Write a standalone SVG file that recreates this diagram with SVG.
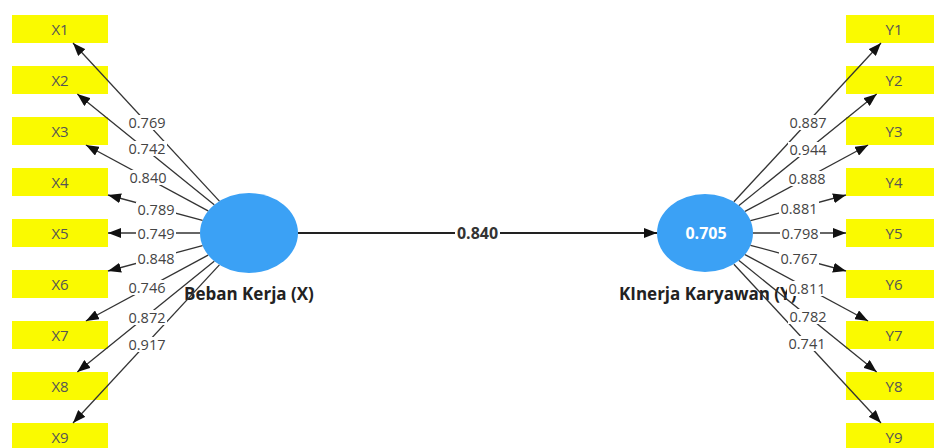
<svg xmlns="http://www.w3.org/2000/svg" width="934" height="448" viewBox="0 0 934 448">
  <style>
    .ind { fill: #fafa00; }
    .ind-t { font-family: "Open Sans", "Liberation Sans", sans-serif; font-size: 15px; fill: #555; text-anchor: middle; dominant-baseline: central; }
    .lv { fill: #3ba1f5; }
    .lv-name { font-family: "Open Sans", "Liberation Sans", sans-serif; font-size: 17px; font-weight: bold; fill: #222; }
    .lv-r2 { font-family: "Open Sans", "Liberation Sans", sans-serif; font-size: 16px; font-weight: bold; fill: #fff; text-anchor: middle; dominant-baseline: central; }
    .edge { stroke: #333; stroke-width: 1.3; fill: none; marker-end: url(#arrow); }
    .path { stroke: #222; stroke-width: 2; fill: none; marker-end: url(#arrow); }
    .lbl-bg { fill: #fff; }
    .lbl { font-family: "Open Sans", "Liberation Sans", sans-serif; font-size: 14.5px; fill: #444; text-anchor: middle; dominant-baseline: central; }
    .lbl-b { font-family: "Open Sans", "Liberation Sans", sans-serif; font-size: 16px; font-weight: bold; fill: #333; text-anchor: middle; dominant-baseline: central; }
  </style>
  <defs>
    <marker id="arrow" markerUnits="userSpaceOnUse" markerWidth="14" markerHeight="10" refX="13" refY="5" orient="auto">
      <path d="M0,0 L13,5 L0,10 z" fill="#111"/>
    </marker>
    <rect id="ibox" width="96" height="28"/>
  </defs>

  <rect width="934" height="448" fill="#fff"/>

  <!-- latent variables -->
  <g id="beban-kerja">
    <ellipse class="lv" cx="249" cy="233" rx="49" ry="40"/>
    <text class="lv-name" x="184" y="300">Beban Kerja (X)</text>
  </g>
  <g id="kinerja-karyawan">
    <ellipse class="lv" cx="705" cy="233" rx="48" ry="39"/>
    <text class="lv-r2" x="706" y="233">0.705</text>
    <text class="lv-name" x="619" y="300">KInerja Karyawan (Y)</text>
  </g>

  <!-- indicators of Beban Kerja -->
  <g id="X1"><use href="#ibox" class="ind" x="12" y="15"/><text class="ind-t" x="60" y="29">X1</text></g>
  <g id="X2"><use href="#ibox" class="ind" x="12" y="66"/><text class="ind-t" x="60" y="80">X2</text></g>
  <g id="X3"><use href="#ibox" class="ind" x="12" y="117"/><text class="ind-t" x="60" y="131">X3</text></g>
  <g id="X4"><use href="#ibox" class="ind" x="12" y="168"/><text class="ind-t" x="60" y="182">X4</text></g>
  <g id="X5"><use href="#ibox" class="ind" x="12" y="219"/><text class="ind-t" x="60" y="233">X5</text></g>
  <g id="X6"><use href="#ibox" class="ind" x="12" y="270"/><text class="ind-t" x="60" y="284">X6</text></g>
  <g id="X7"><use href="#ibox" class="ind" x="12" y="321"/><text class="ind-t" x="60" y="335">X7</text></g>
  <g id="X8"><use href="#ibox" class="ind" x="12" y="372"/><text class="ind-t" x="60" y="386">X8</text></g>
  <g id="X9"><use href="#ibox" class="ind" x="12" y="423"/><text class="ind-t" x="60" y="437">X9</text></g>

  <!-- indicators of Kinerja Karyawan -->
  <g id="Y1"><use href="#ibox" class="ind" x="846" y="15"/><text class="ind-t" x="894" y="29">Y1</text></g>
  <g id="Y2"><use href="#ibox" class="ind" x="846" y="66"/><text class="ind-t" x="894" y="80">Y2</text></g>
  <g id="Y3"><use href="#ibox" class="ind" x="846" y="117"/><text class="ind-t" x="894" y="131">Y3</text></g>
  <g id="Y4"><use href="#ibox" class="ind" x="846" y="168"/><text class="ind-t" x="894" y="182">Y4</text></g>
  <g id="Y5"><use href="#ibox" class="ind" x="846" y="219"/><text class="ind-t" x="894" y="233">Y5</text></g>
  <g id="Y6"><use href="#ibox" class="ind" x="846" y="270"/><text class="ind-t" x="894" y="284">Y6</text></g>
  <g id="Y7"><use href="#ibox" class="ind" x="846" y="321"/><text class="ind-t" x="894" y="335">Y7</text></g>
  <g id="Y8"><use href="#ibox" class="ind" x="846" y="372"/><text class="ind-t" x="894" y="386">Y8</text></g>
  <g id="Y9"><use href="#ibox" class="ind" x="846" y="423"/><text class="ind-t" x="894" y="437">Y9</text></g>

  <!-- connectors: outer loadings and structural path -->
  <g id="connectors">
    <line class="edge" x1="219.4" y1="201.1" x2="73" y2="43"/>
    <line class="edge" x1="214.2" y1="204.8" x2="77.3" y2="94"/>
    <line class="edge" x1="208.1" y1="210.9" x2="85.9" y2="145"/>
    <line class="edge" x1="202.5" y1="220.4" x2="108" y2="195"/>
    <line class="edge" x1="200" y1="233" x2="108" y2="233"/>
    <line class="edge" x1="202.5" y1="245.6" x2="108" y2="271"/>
    <line class="edge" x1="208.1" y1="255.1" x2="85.9" y2="321"/>
    <line class="edge" x1="214.2" y1="261.2" x2="77.3" y2="372"/>
    <line class="edge" x1="219.4" y1="264.9" x2="73" y2="423"/>

    <line class="edge" x1="733.9" y1="201.8" x2="881" y2="43"/>
    <line class="edge" x1="739" y1="205.5" x2="876.7" y2="94"/>
    <line class="edge" x1="745" y1="211.4" x2="868.1" y2="145"/>
    <line class="edge" x1="750.5" y1="220.7" x2="846" y2="195"/>
    <line class="edge" x1="753" y1="233" x2="846" y2="233"/>
    <line class="edge" x1="750.5" y1="245.3" x2="846" y2="271"/>
    <line class="edge" x1="745" y1="254.6" x2="868.1" y2="321"/>
    <line class="edge" x1="739" y1="260.5" x2="876.7" y2="372"/>
    <line class="edge" x1="733.9" y1="264.2" x2="881" y2="423"/>

    <line class="path" x1="298" y1="233" x2="657" y2="233"/>

    <!-- loading labels (left) -->
    <g>
      <rect class="lbl-bg" x="127" y="115" width="40" height="15"/><text class="lbl" x="147" y="122">0.769</text>
      <rect class="lbl-bg" x="127" y="141" width="40" height="15"/><text class="lbl" x="147" y="148.5">0.742</text>
      <rect class="lbl-bg" x="128" y="170" width="40" height="15"/><text class="lbl" x="148" y="177.5">0.840</text>
      <rect class="lbl-bg" x="136" y="202" width="40" height="15"/><text class="lbl" x="156" y="209">0.789</text>
      <rect class="lbl-bg" x="136" y="226" width="40" height="15"/><text class="lbl" x="156" y="233.5">0.749</text>
      <rect class="lbl-bg" x="136" y="250" width="40" height="15"/><text class="lbl" x="156" y="258">0.848</text>
      <rect class="lbl-bg" x="127" y="280" width="40" height="15"/><text class="lbl" x="147" y="287.5">0.746</text>
      <rect class="lbl-bg" x="127" y="310" width="40" height="15"/><text class="lbl" x="147" y="317.5">0.872</text>
      <rect class="lbl-bg" x="127" y="337" width="40" height="15"/><text class="lbl" x="147" y="344.5">0.917</text>
    </g>
    <!-- loading labels (right) -->
    <g>
      <rect class="lbl-bg" x="788" y="115" width="40" height="15"/><text class="lbl" x="808" y="122.5">0.887</text>
      <rect class="lbl-bg" x="788" y="142" width="40" height="15"/><text class="lbl" x="808" y="149.5">0.944</text>
      <rect class="lbl-bg" x="787" y="171" width="40" height="15"/><text class="lbl" x="807" y="178">0.888</text>
      <rect class="lbl-bg" x="779" y="201" width="40" height="15"/><text class="lbl" x="799" y="208.5">0.881</text>
      <rect class="lbl-bg" x="780" y="226" width="40" height="15"/><text class="lbl" x="800" y="233.5">0.798</text>
      <rect class="lbl-bg" x="779" y="251" width="40" height="15"/><text class="lbl" x="799" y="258.5">0.767</text>
      <rect class="lbl-bg" x="787" y="281" width="40" height="15"/><text class="lbl" x="807" y="288">0.811</text>
      <rect class="lbl-bg" x="788" y="309" width="40" height="15"/><text class="lbl" x="808" y="316.5">0.782</text>
      <rect class="lbl-bg" x="787" y="336" width="40" height="15"/><text class="lbl" x="807" y="343.5">0.741</text>
    </g>
    <!-- path coefficient label -->
    <rect class="lbl-bg" x="455" y="225" width="45" height="16"/><text class="lbl-b" x="477.5" y="233">0.840</text>
  </g>
</svg>
